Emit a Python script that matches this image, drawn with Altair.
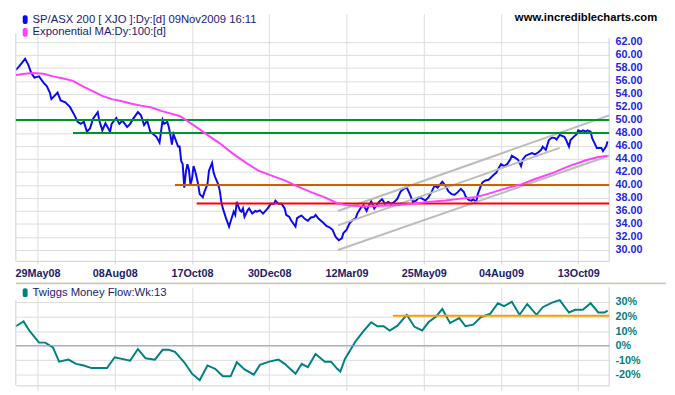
import altair as alt
import pandas as pd

# ---------------- data ----------------
# x positions are trading-day index (0 = early May 2008)
tick_idx = [14, 64, 114, 164, 214, 264, 314, 364]
tick_labels = ["29May08", "08Aug08", "17Oct08", "30Dec08", "12Mar09", "25May09", "04Aug09", "13Oct09"]

price = [(0,57.7),(2,58.2),(6,59.4),(8,58.5),(10,57.2),(12,56.5),(15,56.7),(18,55.7),(20,55.2),(22,54.2),
         (23,53.2),(25,53.7),(27,54.2),(29,53.0),(32,52.7),(35,52.0),(38,50.7),(40,49.7),(42,49.4),(44,49.7),
         (46,48.2),(48,48.7),(50,50.2),(53,51.2),(54,49.9),(56,48.4),(58,49.5),(61,48.2),(62,49.4),(65,50.3),
         (67,49.4),(69,49.9),(72,48.9),(74,49.4),(76,50.2),(79,51.2),(81,50.7),(83,49.2),(85,49.9),(87,48.2),
         (91,47.4),(93,46.5),(95,50.0),(96,49.4),(98,49.7),(99,48.9),(100,47.7),(101,46.2),(102,47.8),(103,47.2),
         (105,45.9),(106,45.9),(107,43.7),(108,43.2),(109,39.6),(110,41.9),(111,43.2),(112,42.4),(113,40.1),(114,40.9),
         (115,42.9),(116,42.2),(117,41.2),(118,40.1),(119,38.6),(121,38.1),(122,38.9),(124,40.1),(125,42.2),(127,43.4),
         (128,41.9),(129,41.2),(131,40.1),(132,39.1),(133,37.4),(134,36.4),(136,34.9),(138,33.6),(139,34.4),(141,35.9),
         (142,35.4),(143,37.4),(145,36.1),(146,35.9),(147,36.4),(148,35.1),(150,36.1),(151,36.4),(153,35.6),(155,36.0),
         (156,35.9),(158,36.1),(160,35.6),(163,36.4),(165,37.1),(167,37.1),(168,37.6),(170,37.1),(172,37.1),(174,36.4),
         (175,35.4),(177,35.1),(178,34.6),(181,33.6),(182,34.9),(184,35.2),(185,35.3),(187,34.8),(189,34.5),(191,35.0),
         (193,35.1),(194,35.4),(196,34.8),(199,34.2),(201,33.7),(203,33.5),(205,33.1),(207,32.0),(209,31.5),(211,31.8),
         (212,32.6),(214,33.1),(216,34.1),(218,34.6),(220,34.9),(221,35.6),(223,36.4),(225,36.9),(227,36.0),(228,36.6),
         (230,37.5),(232,36.4),(235,37.4),(237,37.8),(239,37.1),(241,37.4),(243,37.1),(245,37.4),(247,37.9),(249,39.0),
         (251,39.4),(253,39.6),(255,38.6),(257,37.4),(259,37.6),(261,38.1),(263,37.9),(265,37.6),(267,38.1),(269,38.9),
         (271,39.9),(273,39.6),(274,39.9),(276,40.5),(278,39.9),(280,39.0),(282,38.6),(284,38.5),(286,38.9),(288,39.4),
         (290,38.9),(291,38.3),(293,37.7),(295,37.6),(296,37.8),(298,37.4),(299,38.6),(301,39.9),(302,40.4),(304,40.7),
         (306,40.8),(309,41.5),(311,41.9),(312,42.4),(314,43.2),(316,42.9),(318,43.2),(320,43.9),(321,44.5),(323,44.2),
         (325,43.9),(327,42.9),(328,43.9),(330,44.5),(332,44.7),(334,44.9),(336,44.7),(338,45.0),(340,45.4),(341,45.9),
         (343,45.4),(345,46.9),(347,47.3),(349,47.2),(350,47.0),(352,47.7),(355,47.4),(356,47.0),(358,45.9),(359,46.9),
         (361,47.4),(363,47.8),(364,48.4),(366,48.2),(367,48.4),(369,48.2),(370,48.4),(372,48.2),(373,47.2),(375,46.2),
         (376,45.7),(379,45.7),(380,45.2),(382,45.9),(383,46.7)]

ema = [(0,56.9),(6,57.1),(11,57.2),(18,57.1),(24,56.7),(30,56.4),(37,56.0),(43,55.2),(49,54.5),(56,53.7),
       (62,53.2),(68,52.9),(75,52.5),(81,52.2),(88,51.9),(94,51.4),(100,51.0),(106,50.6),(115,49.2),(124,47.7),
       (132,46.4),(140,44.9),(149,43.4),(157,42.2),(166,41.4),(174,40.7),(183,39.7),(191,38.9),(200,38.1),(208,37.2),
       (214,36.9),(225,36.7),(236,36.8),(246,36.9),(257,37.1),(267,37.4),(278,37.6),(288,37.9),(297,38.1),(305,38.6),
       (316,39.4),(327,40.1),(337,41.0),(348,41.9),(358,42.9),(369,43.8),(377,44.3),(383,44.5)]

tmf = [(0,13.3),(5,16.6),(9,9.9),(15,2.1),(19,2.1),(24,-1.2),(28,-10.9),(34,-9.5),(39,-12.4),(44,-13.5),
       (49,-15.3),(59,-15.3),(64,-7.9),(74,-10.2),(79,-2.3),(84,-8.6),(90,-9.5),(95,-2.8),(99,-2.8),(103,-4.2),
       (109,-11.3),(114,-19.1),(119,-23.6),(124,-13.5),(129,-15.8),(134,-20.9),(139,-20.9),(143,-11.3),(148,-16.2),(154,-19.8),
       (158,-13.1),(164,-10.9),(170,-9.5),(174,-12.4),(181,-19.1),(185,-12.4),(189,-14.6),(194,-5.7),(200,-10.9),(204,-10.9),
       (208,-15.8),(210,-17.6),(213,-9.0),(220,3.2),(225,9.9),(230,16.0),(234,13.3),(238,13.3),(242,10.4),(247,13.7),
       (253,21.1),(258,12.9),(263,10.4),(267,16.0),(272,20.0),(276,25.1),(281,15.5),(287,18.9),(291,13.3),(296,14.4),
       (301,19.6),(307,21.8),(312,29.0),(316,27.1),(321,30.0),(326,21.1),(331,28.5),(337,21.1),(341,26.3),(347,29.4),
       (352,31.2),(358,22.7),(362,24.5),(367,24.5),(372,29.0),(377,22.7),(381,22.7),(383,24.0)]

# horizontal support / resistance lines (start index, end index, level, colour)
level_start = [0, 37, 103, 117]
level_end = [384, 384, 384, 384]
level_value = [50.0, 48.0, 40.0, 37.15]
level_color = ["#00922e", "#00922e", "#c86400", "#ff0000"]

# trend channel (start idx, start value, end idx, end value)
chan_x1 = [208.5, 208.5, 208.5]
chan_y1 = [36.0, 33.8, 30.0]
chan_x2 = [384, 352, 384]
chan_y2 = [50.7, 45.7, 44.5]

tmf_level = 20.5
tmf_level_start = 244

X_DOMAIN = [0, 384]
PRICE_DOMAIN = [28.34, 66.33]
TMF_DOMAIN = [-27.1, 39.9]
price_ticks = list(range(30, 64, 2))
tmf_ticks = [-20, -10, 0, 10, 20, 30]

FONT = "Liberation Sans"
GRID = "#dcdcdc"
FRAME = "#cfcfcf"

label_expr = " : ".join(
    f"datum.value == {i} ? '{t}'" for i, t in zip(tick_idx, tick_labels)
) + " : ''"

price_df = pd.DataFrame(price, columns=["i", "v"])
ema_df = pd.DataFrame(ema, columns=["i", "v"])
tmf_df = pd.DataFrame(tmf, columns=["i", "v"])
lvl_df = pd.DataFrame({"x1": level_start, "x2": level_end, "y": level_value, "c": level_color})
chan_df = pd.DataFrame({"x1": chan_x1, "y1": chan_y1, "x2": chan_x2, "y2": chan_y2})

W = 605

xs_top = alt.Scale(domain=X_DOMAIN, nice=False, zero=False)
ys_top = alt.Scale(domain=PRICE_DOMAIN, nice=False, zero=False)

x_axis_top = alt.Axis(values=tick_idx, tickCount=50, labelExpr=label_expr, grid=True, gridColor=GRID,
                      domainColor=FRAME, tickColor=FRAME, tickSize=3, labelFont=FONT,
                      labelFontSize=11, labelFontWeight="bold", labelColor="#1c1c6c",
                      labelPadding=4, labelFlush=False, labelOverlap=False, title=None)
y_axis_top = alt.Axis(orient="right", values=price_ticks, tickCount=50, format=".2f", grid=True,
                      gridColor=GRID, domain=False, ticks=False, labelFont=FONT, labelFontSize=11,
                      labelFontWeight="bold", labelColor="#2424e6", labelPadding=6,
                      labelOverlap=False, labelFlush=False, labelBound=False, title=None)

frame_top = pd.DataFrame({"x": [0, 384], "y1": [63.3, 62.6], "y2": [PRICE_DOMAIN[0]] * 2})

base_top = alt.Chart(price_df).mark_line(color="#0a0af0", strokeWidth=2, clip=True).encode(
    x=alt.X("i:Q", scale=xs_top, axis=x_axis_top),
    y=alt.Y("v:Q", scale=ys_top, axis=y_axis_top),
)
frame_t = alt.Chart(frame_top).mark_rule(color=FRAME, strokeWidth=1).encode(
    x=alt.X("x:Q", scale=xs_top), y=alt.Y("y1:Q", scale=ys_top), y2="y2:Q")
chan = alt.Chart(chan_df).mark_rule(color="#bcbcbc", strokeWidth=2).encode(
    x=alt.X("x1:Q", scale=xs_top), y=alt.Y("y1:Q", scale=ys_top), x2="x2:Q", y2="y2:Q")
levels = alt.Chart(lvl_df).mark_rule(strokeWidth=2).encode(
    x=alt.X("x1:Q", scale=xs_top), x2="x2:Q", y=alt.Y("y:Q", scale=ys_top),
    color=alt.Color("c:N", scale=None))
ema_line = alt.Chart(ema_df).mark_line(color="#ff40ff", strokeWidth=2, clip=True).encode(
    x=alt.X("i:Q", scale=xs_top), y=alt.Y("v:Q", scale=ys_top))

leg_top = pd.DataFrame({
    "t": ["SP/ASX 200 [ XJO ]:Dy:[d]  09Nov2009 16:11", "Exponential MA:Dy:100:[d]"],
    "yy": [6, 19], "c": ["#0a0af0", "#ff40ff"]})
leg_mark = alt.Chart(leg_top).mark_rect(cornerRadius=2, width=5, height=9).encode(
    x=alt.value(9.5), y=alt.Y("yy:Q", scale=None, axis=None),
    color=alt.Color("c:N", scale=None))
leg_text = alt.Chart(leg_top).mark_text(align="left", baseline="middle", font=FONT,
                                         fontSize=11.5, color="#1a1a78").encode(
    x=alt.value(17), y=alt.Y("yy:Q", scale=None, axis=None), text="t:N")
site = alt.Chart(pd.DataFrame({"t": ["www.incrediblecharts.com"]})).mark_text(
    align="right", baseline="middle", font=FONT, fontSize=11.5, fontWeight="bold", color="#000000").encode(
    x=alt.value(654), y=alt.value(4), text="t:N")

top = alt.layer(base_top, frame_t, chan, levels, ema_line, leg_mark, leg_text, site).properties(
    width=W, height=252)

# ---------------- lower panel ----------------
xs_bot = alt.Scale(domain=X_DOMAIN, nice=False, zero=False)
ys_bot = alt.Scale(domain=TMF_DOMAIN, nice=False, zero=False)
x_axis_bot = alt.Axis(values=tick_idx, tickCount=50, labels=False, grid=True, gridColor=GRID,
                      domainColor=FRAME, tickColor=GRID, tickSize=5, title=None)
y_axis_bot = alt.Axis(orient="right", values=tmf_ticks, tickCount=50, labelExpr="datum.value + '%'",
                      grid=True, gridColor=GRID, domain=False, ticks=False, labelFont=FONT,
                      labelFontSize=11, labelFontWeight="bold", labelColor="#008080", labelPadding=6,
                      labelOverlap=False, labelFlush=False, labelBound=False, title=None)

zero_df = pd.DataFrame({"x1": [0], "x2": [384], "y": [0]})
tl_df = pd.DataFrame({"x1": [tmf_level_start], "x2": [384], "y": [tmf_level]})
frame_bot = pd.DataFrame({"x": [0, 384], "y1": [31.0, TMF_DOMAIN[1]], "y2": [TMF_DOMAIN[0]] * 2})

tmf_line = alt.Chart(tmf_df).mark_line(color="#008080", strokeWidth=2).encode(
    x=alt.X("i:Q", scale=xs_bot, axis=x_axis_bot),
    y=alt.Y("v:Q", scale=ys_bot, axis=y_axis_bot))
frame_b = alt.Chart(frame_bot).mark_rule(color=FRAME, strokeWidth=1).encode(
    x=alt.X("x:Q", scale=xs_bot), y=alt.Y("y1:Q", scale=ys_bot), y2="y2:Q")
zero_rule = alt.Chart(zero_df).mark_rule(color="#9393d6", strokeWidth=1).encode(
    x=alt.X("x1:Q", scale=xs_bot), x2="x2:Q", y=alt.Y("y:Q", scale=ys_bot))
tmf_rule = alt.Chart(tl_df).mark_rule(color="#ff9a00", strokeWidth=2).encode(
    x=alt.X("x1:Q", scale=xs_bot), x2="x2:Q", y=alt.Y("y:Q", scale=ys_bot))
sep = alt.Chart(pd.DataFrame({"a": [1]})).mark_rule(color="#cdc9bd", strokeWidth=2).encode(
    x=alt.value(0), x2=alt.value(663), y=alt.value(-4))
leg_b_mark = alt.Chart(pd.DataFrame({"a": [1]})).mark_rect(cornerRadius=2, color="#008080").encode(
    x=alt.value(7), x2=alt.value(12), y=alt.value(1), y2=alt.value(10))
leg_b_text = alt.Chart(pd.DataFrame({"t": ["Twiggs Money Flow:Wk:13"]})).mark_text(
    align="left", baseline="middle", font=FONT, fontSize=11.5, color="#1a1a78").encode(
    x=alt.value(17), y=alt.value(6), text="t:N")

bottom = alt.layer(tmf_line, frame_b, zero_rule, tmf_rule, sep, leg_b_mark, leg_b_text).properties(
    width=W, height=100)

chart = alt.vconcat(top, bottom, spacing=27, bounds="flush").properties(
    padding={"left": 4, "top": 0, "right": 0, "bottom": 0},
    background="white",
).configure_view(stroke=None).configure_axis(labelOverlap=False)

chart.save("out.html", embed_options={"renderer": "svg", "actions": False})
